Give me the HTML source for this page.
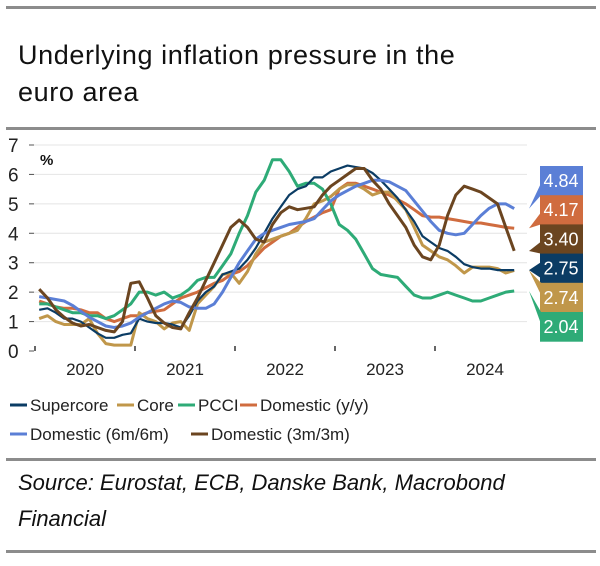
<!DOCTYPE html>
<html><head><meta charset="utf-8"><style>
body{margin:0;background:#fff;width:600px;height:561px;overflow:hidden;font-family:"Liberation Sans",sans-serif;}
svg text{font-family:"Liberation Sans",sans-serif;}
</style></head><body>
<svg id="c" width="600" height="561">
<rect x="6" y="6" width="590" height="3" fill="#8c8c8c"/>
<text x="18" y="64" font-size="27" letter-spacing="0.6" fill="#111">Underlying inflation  pressure in the</text>
<text x="18" y="101" font-size="27" letter-spacing="0.6" fill="#111">euro area</text>
<rect x="6" y="127" width="590" height="3" fill="#8c8c8c"/>
<g id="grid"></g><g id="lines"></g><g id="tags"></g>
<text x="40" y="165" font-size="15" font-weight="bold" fill="#111">%</text>
<g id="legend" font-size="17" fill="#222"></g>
<rect x="6" y="458" width="590" height="3" fill="#8c8c8c"/>
<text x="18" y="490" font-size="22" font-style="italic" fill="#111">Source: Eurostat, ECB, Danske Bank, Macrobond</text>
<text x="18" y="526" font-size="22" font-style="italic" fill="#111">Financial</text>
<rect x="6" y="550" width="590" height="3" fill="#8c8c8c"/>
</svg>
<script>
const yTicks=[0,1,2,3,4,5,6,7];
const years=["2020","2021","2022","2023","2024"];
const seriesNames=["Supercore","Core","PCCI","Domestic (y/y)","Domestic (6m/6m)","Domestic (3m/3m)"];
const supercore=[1.4,1.45,1.3,1.1,1.1,1.0,0.8,0.6,0.45,0.45,0.55,0.6,1.1,1.0,0.95,0.95,0.9,0.8,1.2,1.7,2.0,2.2,2.6,2.7,2.8,3.1,3.5,4.0,4.5,4.9,5.3,5.5,5.6,5.9,5.9,6.1,6.2,6.3,6.25,6.2,6.05,5.8,5.5,5.2,4.8,4.4,3.9,3.7,3.5,3.4,3.2,2.95,2.85,2.8,2.8,2.75,2.75,2.75];
const core=[1.1,1.2,1.0,0.9,0.9,0.9,1.1,0.6,0.25,0.2,0.2,0.2,1.3,1.1,1.0,0.75,0.95,1.0,0.7,1.6,1.9,2.2,2.6,2.65,2.3,2.7,3.3,3.7,3.8,3.9,4.0,4.1,4.5,5.0,5.1,5.25,5.5,5.65,5.65,5.5,5.3,5.4,5.4,5.1,4.8,4.2,3.6,3.4,3.2,3.1,2.9,2.65,2.85,2.85,2.85,2.8,2.65,2.74];
const pcci=[1.6,1.6,1.5,1.4,1.3,1.3,1.2,1.2,1.1,1.2,1.4,1.6,2.0,2.0,1.9,2.0,1.8,1.9,2.1,2.4,2.5,2.5,2.9,3.3,4.0,4.6,5.4,5.8,6.5,6.5,6.1,5.6,5.7,5.7,5.5,5.0,4.3,4.1,3.8,3.3,2.8,2.6,2.55,2.5,2.2,1.9,1.8,1.8,1.9,2.0,1.9,1.8,1.7,1.7,1.8,1.9,2.0,2.04];
const domYY=[1.7,1.6,1.5,1.45,1.45,1.4,1.3,1.3,1.1,1.0,1.1,1.2,1.2,1.3,1.35,1.4,1.6,1.8,1.9,2.0,2.15,2.3,2.4,2.6,2.7,2.9,3.2,3.5,3.7,3.9,4.0,4.2,4.4,4.55,4.7,4.8,5.5,5.7,5.7,5.6,5.5,5.4,5.3,5.15,5.0,4.8,4.6,4.55,4.55,4.5,4.45,4.4,4.35,4.35,4.3,4.25,4.2,4.17];
const dom6m=[1.85,1.8,1.75,1.7,1.55,1.35,1.15,1.0,0.85,0.8,0.85,0.95,1.15,1.3,1.45,1.6,1.7,1.65,1.5,1.45,1.45,1.6,2.0,2.5,3.0,3.4,3.8,4.0,4.1,4.2,4.3,4.35,4.4,4.5,4.8,5.1,5.3,5.45,5.6,5.7,5.8,5.8,5.75,5.6,5.45,5.1,4.75,4.4,4.1,4.0,3.95,4.0,4.3,4.6,4.85,5.0,5.0,4.84];
const dom3m=[2.1,1.8,1.4,1.15,0.95,0.85,0.9,0.8,0.7,0.65,1.0,2.3,2.35,1.8,1.2,0.95,0.8,0.75,1.3,1.8,2.4,3.0,3.6,4.2,4.45,4.2,3.8,3.7,4.3,4.7,4.9,4.8,4.85,4.9,5.3,5.6,5.8,6.0,6.2,6.2,5.8,5.5,5.0,4.6,4.2,3.6,3.2,3.1,3.6,4.6,5.3,5.6,5.5,5.4,5.2,5.0,4.2,3.4];
const tagValues=["4.84","4.17","3.40","2.75","2.74","2.04"];
const NS="http://www.w3.org/2000/svg";
const X0=35,YR=100,Y0=351,UNIT=(351-145)/7;
const xs=i=>X0+YR/12*(i+0.5);
const ys=v=>Y0-v*UNIT;
function mk(tag,attrs,parent){const e=document.createElementNS(NS,tag);for(const k in attrs)e.setAttribute(k,attrs[k]);parent.appendChild(e);return e;}
const grid=document.getElementById('grid');
yTicks.forEach(t=>{
  const l=mk('line',{x1:X0-6,x2:527,y1:ys(t),y2:ys(t),stroke:t===0?'#fff':'#e4e4e4','stroke-width':1},grid);
  
  
  const tk=mk('line',{x1:X0-6,x2:X0-1,y1:ys(t),y2:ys(t),stroke:'#555'},grid);
  
  
  const tx=mk('text',{x:8,y:ys(t)+7,'font-size':19,fill:'#222'},grid);
  tx.textContent=t;
  
  
});
years.forEach((y,k)=>{
  const tk=mk('line',{x1:X0+k*YR,x2:X0+k*YR,y1:Y0-5,y2:Y0,stroke:'#333','stroke-width':1.5},grid);
  
  
  const tx=mk('text',{x:X0+k*YR+YR/2,y:375,'font-size':17,fill:'#222','text-anchor':'middle'},grid);
  tx.textContent=y;
  
  
});
const colors=["#0b3c64","#c0974a","#2eab77","#d06c3f","#5b7fd6","#6b4520"];
const data=[supercore,core,pcci,domYY,dom6m,dom3m];
const order=[3,1,2,0,4,5];
const lg=document.getElementById('lines');
order.forEach(s=>{
  const d=data[s].map((v,i)=>(i?'L':'M')+xs(i).toFixed(1)+' '+ys(v).toFixed(1)).join(' ');
  const p=mk('path',{d:d,fill:'none',stroke:colors[s],'stroke-width':s===0?2.2:3,'stroke-linejoin':'round'},lg);
  
  
});
const tagSeries=[4,3,5,0,1,2];
const tg=document.getElementById('tags');
tagSeries.forEach((s,k)=>{
  const top=166+k*29.2,h=29.2;
  const last=data[s][data[s].length-1];
  const tipY=ys(last);
  const ty=Math.max(top+4,Math.min(top+h-4,tipY));
  const poly=mk('polygon',{points:`${529},${tipY} 541,${Math.max(top,ty-8)} 541,${Math.min(top+h,ty+8)}`,fill:colors[s]},tg);
  
  
  const r=mk('rect',{x:540,y:top,width:43,height:h+0.5,fill:colors[s]},tg);
  
  
  const t=mk('text',{x:561,y:top+21,'font-size':18,fill:'#fff','text-anchor':'middle'},tg);
  t.textContent=tagValues[k];
  
  
});
const leg=document.getElementById('legend');
const legPos=[[10,411],[117,411],[178,411],[240,411],[10,440],[191,440]];
seriesNames.forEach((n,s)=>{
  const [x,y]=legPos[s];
  const l=mk('line',{x1:x,x2:x+17,y1:y-6,y2:y-6,stroke:colors[s],'stroke-width':3},leg);
  
  
  const t=mk('text',{x:x+20,y:y},leg);
  t.textContent=n;
  
  
});
</script>
</body></html>
